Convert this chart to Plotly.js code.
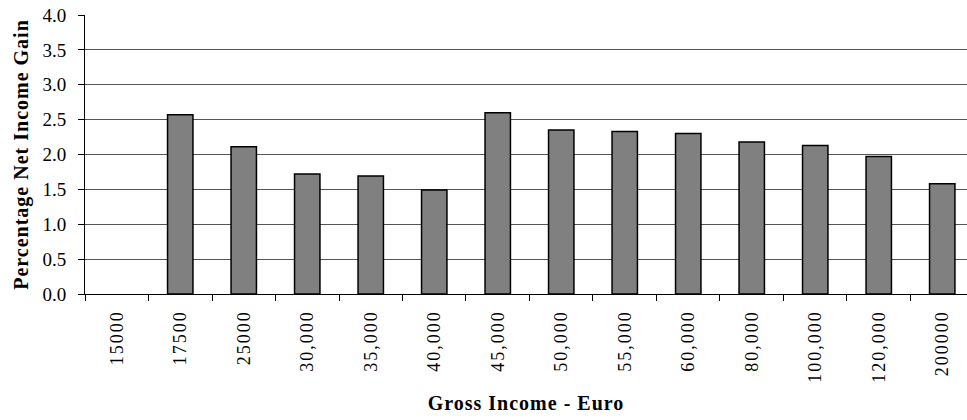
<!DOCTYPE html>
<html>
<head>
<meta charset="utf-8">
<script src="https://cdn.plot.ly/plotly-3.0.1.min.js"></script>
<style>
html,body{margin:0;padding:0;background:#fff;overflow:hidden;}
#chart{width:967px;height:420px;}
.xtick text{letter-spacing:2px;}
.xtitle,.ytitle{letter-spacing:1px;}
</style>
</head>
<body>
<div id="chart"></div>
<script>
const categories = ["15000","17500","25000","30,000","35,000","40,000","45,000","50,000","55,000","60,000","80,000","100,000","120,000","200000"];
const gainPct = [null, 2.57, 2.11, 1.72, 1.69, 1.49, 2.60, 2.35, 2.33, 2.30, 2.18, 2.13, 1.97, 1.58];
const yTicks = [0, 0.5, 1.0, 1.5, 2.0, 2.5, 3.0, 3.5, 4.0];

const serif = "Liberation Serif";

const trace = {
  type: "bar",
  x: categories,
  y: gainPct,
  marker: {color: "#808080", line: {color: "#000", width: 1.5}},
  hoverinfo: "x+y"
};

const layout = {
  width: 967, height: 420,
  margin: {l: 85, r: 0, t: 15, b: 126, pad: 0},
  paper_bgcolor: "#fff", plot_bgcolor: "#fff",
  bargap: 0.6,
  showlegend: false,
  font: {family: serif, color: "#000"},
  xaxis: {
    type: "category",
    range: [-0.5, 13.39],
    tickangle: -90,
    tickson: "boundaries",
    ticks: "outside", ticklen: 6, tickcolor: "#000", tickwidth: 1,
    ticklabelstandoff: 8,
    tickfont: {family: serif, size: 18, color: "#000"},
    showline: true, linecolor: "#000", linewidth: 1,
    showgrid: false, zeroline: false,
    title: {text: "<b>Gross Income - Euro</b>", font: {family: serif, size: 20, color: "#000"}, standoff: 14}
  },
  yaxis: {
    range: [0, 4],
    tickvals: yTicks,
    ticktext: yTicks.map(v => v.toFixed(1)),
    ticks: "outside", ticklen: 6, tickcolor: "#000", tickwidth: 1,
    ticklabelstandoff: 8,
    tickfont: {family: serif, size: 19, color: "#000"},
    showline: true, linecolor: "#000", linewidth: 1,
    showgrid: true, gridcolor: "#555", gridwidth: 1,
    zeroline: false,
    title: {text: "<b>Percentage Net Income Gain</b>", font: {family: serif, size: 20, color: "#000"}, standoff: 8}
  }
};

Plotly.newPlot("chart", [trace], layout, {displayModeBar: false, staticPlot: true});
</script>
</body>
</html>
